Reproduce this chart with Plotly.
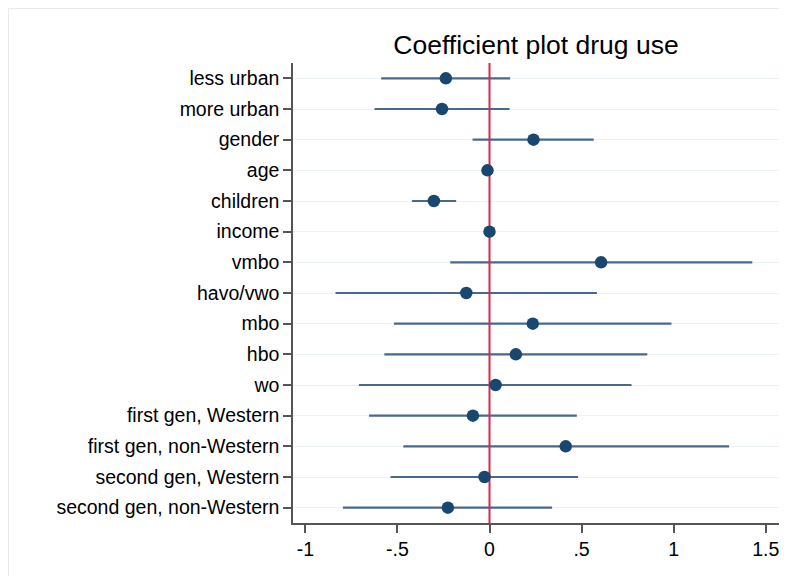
import plotly.graph_objects as go

categories = ["less urban", "more urban", "gender", "age", "children", "income",
              "vmbo", "havo/vwo", "mbo", "hbo", "wo", "first gen, Western",
              "first gen, non-Western", "second gen, Western", "second gen, non-Western"]
coef = [-0.237, -0.258, 0.239, -0.011, -0.302, 0.0,
        0.606, -0.126, 0.235, 0.143, 0.033, -0.090,
        0.414, -0.027, -0.226]
ci_low = [-0.588, -0.624, -0.092, -0.013, -0.421, -0.002,
          -0.213, -0.836, -0.519, -0.571, -0.709, -0.654,
          -0.468, -0.537, -0.796]
ci_high = [0.112, 0.109, 0.566, -0.009, -0.181, 0.002,
           1.427, 0.583, 0.988, 0.857, 0.771, 0.474,
           1.301, 0.481, 0.340]
x_ticks = [-1, -0.5, 0, 0.5, 1, 1.5]
x_ticklabels = ["-1", "-.5", "0", ".5", "1", "1.5"]
ref_value = 0

# page has an 8px body margin, so the figure starts at (8, 8)
W, H = 779, 568
L, R, T, B = 285, 8, 55, 53

pos = list(range(len(categories)))
y_range = [len(categories) - 0.5, -0.5]

fig = go.Figure()

# CI lines
for p, lo, hi in zip(pos, ci_low, ci_high):
    fig.add_trace(go.Scatter(x=[lo, hi], y=[p, p], mode="lines",
                             line=dict(color="#46698c", width=2.2),
                             showlegend=False, hoverinfo="skip"))

# reference line at zero (over CI lines, under markers)
fig.add_trace(go.Scatter(x=[ref_value, ref_value], y=y_range, mode="lines",
                         line=dict(color="#d8294f", width=2),
                         showlegend=False, hoverinfo="skip"))

fig.add_trace(go.Scatter(x=coef, y=pos, mode="markers",
                         marker=dict(color="#1a476f", size=12.5),
                         text=categories, showlegend=False))

# faint outer frame
pw = W - L - R
ph = H - T - B
fig.add_shape(type="rect", xref="paper", yref="paper",
              x0=(0.5 - L) / pw, x1=(W + 5 - L) / pw,
              y0=(-5 - B) / ph, y1=(H - 0.5 - B) / ph,
              line=dict(color="#e6ecee", width=1), fillcolor="rgba(0,0,0,0)",
              layer="below")

fig.update_layout(
    width=W, height=H,
    margin=dict(l=L, r=R, t=T, b=B),
    paper_bgcolor="white", plot_bgcolor="white",
    font=dict(family="Liberation Sans, Arial, sans-serif", color="#000000", size=19.5),
    title=dict(text="Coefficient plot drug use", x=(L + pw / 2) / W, xanchor="center",
               y=1 - 37 / H, yanchor="middle",
               font=dict(size=26.5, color="#000000")),
    xaxis=dict(range=[-1.067, 1.572], tickvals=x_ticks, ticktext=x_ticklabels,
               showgrid=False, zeroline=False, showline=True, linecolor="#555555",
               linewidth=1.5, ticks="outside", ticklen=8, tickcolor="#555555",
               tickwidth=1.5, tickfont=dict(size=19.5)),
    yaxis=dict(range=y_range, tickvals=pos, ticktext=categories,
               showgrid=True, gridcolor="#eaf2f3",
               gridwidth=1.2, zeroline=False, showline=True, linecolor="#555555",
               linewidth=1.5, ticks="outside", ticklen=8, tickcolor="#555555",
               tickwidth=1.5, tickfont=dict(size=19.5)),
)

fig.write_html("out.html")
